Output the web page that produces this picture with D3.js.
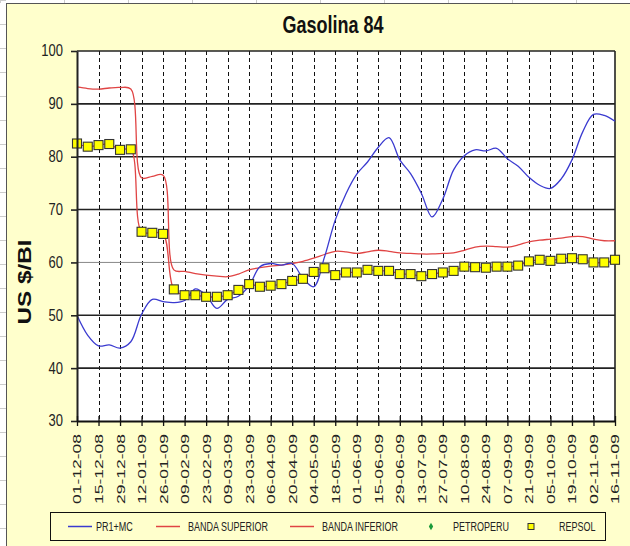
<!DOCTYPE html>
<html><head><meta charset="utf-8">
<script src="https://cdn.jsdelivr.net/npm/d3@7"></script>
<style>
html,body{margin:0;padding:0;background:#fff;}
svg{display:block;font-family:"Liberation Sans",Arial,sans-serif;}
</style></head><body>
<svg id="c" width="630" height="546"></svg>
<script>
const title = "Gasolina 84";
const yTitle = "US $/BI";
const tickLabels = ["01-12-08","15-12-08","29-12-08","12-01-09","26-01-09","09-02-09","23-02-09","09-03-09","23-03-09","06-04-09","20-04-09","04-05-09","18-05-09","01-06-09","15-06-09","29-06-09","13-07-09","27-07-09","10-08-09","24-08-09","07-09-09","21-09-09","05-10-09","19-10-09","02-11-09","16-11-09"];
const yTicks = [30,40,50,60,70,80,90,100];
const pr1mc = [50.0,46.2,44.2,44.4,43.8,45.0,50.2,53.0,52.6,52.4,52.8,55.0,53.8,51.3,53.0,53.6,55.6,59.2,59.8,59.5,59.8,57.0,55.4,61.0,68.0,73.0,76.7,79.0,81.8,83.6,79.4,76.8,73.1,68.6,72.0,77.5,80.2,81.3,81.1,81.6,79.6,78.2,76.1,74.6,74.0,75.8,79.4,84.7,88.0,87.8,86.7];
const bandaSuperior = [93.2,92.9,92.8,93.0,93.1,92.8,76.0,76.3,76.5,58.6,58.3,57.9,57.6,57.4,57.3,57.8,58.6,59.0,59.3,59.5,59.8,60.2,60.8,61.5,62.1,62.0,61.7,62.0,62.3,62.1,61.8,61.7,61.6,61.6,61.7,61.8,62.3,62.9,63.1,63.0,62.9,63.3,63.9,64.2,64.4,64.6,64.9,64.9,64.4,64.1,64.1];
const bandaInferior = [82.5,81.9,82.2,82.4,81.3,81.4,65.8,65.6,65.4,54.9,53.8,53.8,53.5,53.5,53.8,54.8,55.9,55.4,55.6,55.9,56.5,56.9,58.2,58.9,57.6,58.1,58.1,58.6,58.4,58.4,57.8,57.8,57.4,57.8,58.1,58.4,59.2,59.1,59.0,59.2,59.2,59.4,60.2,60.5,60.3,60.7,60.8,60.6,60.0,60.0,60.5];
const petroperu = [];
const repsol = [82.5,81.9,82.2,82.4,81.3,81.4,65.8,65.6,65.4,54.9,53.8,53.8,53.5,53.5,53.8,54.8,55.9,55.4,55.6,55.9,56.5,56.9,58.2,58.9,57.6,58.1,58.1,58.6,58.4,58.4,57.8,57.8,57.4,57.8,58.1,58.4,59.2,59.1,59.0,59.2,59.2,59.4,60.2,60.5,60.3,60.7,60.8,60.6,60.0,60.0,60.5];
const legendNames = ["PR1+MC","BANDA SUPERIOR","BANDA INFERIOR","PETROPERU","REPSOL"];

const BLUE = "#3a3ad0", RED = "#e04444", BG = "#ffffcc";
const svg = d3.select("#c");
const M = {l:77, r:615, t:51, b:421};
const parse = d3.timeParse("%d-%m-%y");
const tickDates = tickLabels.map(parse);
const weekDates = pr1mc.map((_,i)=>d3.timeDay.offset(tickDates[0], 7*i));
const x = d3.scaleTime().domain([tickDates[0], tickDates[tickDates.length-1]]).range([M.l, M.r]);
const y = d3.scaleLinear().domain([30,100]).range([M.b, M.t]);

// spreadsheet strip
svg.append("rect").attr("width",630).attr("height",546).attr("fill","#fff");
svg.append("g").selectAll("line").data(d3.range(0,546,24)).join("line")
  .attr("x1",0).attr("x2",6).attr("y1",d=>d+0.5).attr("y2",d=>d+0.5).attr("stroke","#ccc");
svg.append("g").selectAll("line").data(d3.range(0,630,64)).join("line")
  .attr("x1",d=>d+0.5).attr("x2",d=>d+0.5).attr("y1",0).attr("y2",3).attr("stroke","#ccc");
// chart area
svg.append("rect").attr("x",6.5).attr("y",3.5).attr("width",630).attr("height",550)
  .attr("fill",BG).attr("stroke","#555");
// plot area
svg.append("rect").attr("x",M.l).attr("y",M.t).attr("width",M.r-M.l).attr("height",M.b-M.t).attr("fill","#fff");

// vertical dashed grid
svg.append("g").selectAll("line").data(tickDates.slice(1,-1)).join("line")
  .attr("x1",d=>Math.round(x(d))+0.5).attr("x2",d=>Math.round(x(d))+0.5)
  .attr("y1",M.t).attr("y2",M.b).attr("stroke","#111").attr("stroke-width",1).attr("stroke-dasharray","4,3");
// horizontal grid
svg.append("g").selectAll("line").data(yTicks.slice(1)).join("line")
  .attr("x1",M.l).attr("x2",M.r).attr("y1",d=>y(d)).attr("y2",d=>y(d))
  .attr("stroke",d=>d===60?"#888":"#222").attr("stroke-width",d=>d===60?1:1.6);
// right border
svg.append("line").attr("x1",M.r).attr("x2",M.r).attr("y1",M.t).attr("y2",M.b).attr("stroke","#222").attr("stroke-width",1.6);

const line = d3.line().x((d,i)=>x(weekDates[i])).y(d=>y(d)).curve(d3.curveCatmullRom.alpha(0.5));
svg.append("path").datum(bandaInferior).attr("d",line).attr("fill","none").attr("stroke",RED).attr("stroke-width",1.3);
svg.append("path").datum(bandaSuperior).attr("d",line).attr("fill","none").attr("stroke",RED).attr("stroke-width",1.3);
svg.append("path").datum(pr1mc).attr("d",line).attr("fill","none").attr("stroke",BLUE).attr("stroke-width",1.3);
svg.append("g").selectAll("path").data(petroperu).join("path")
  .attr("transform",(d,i)=>`translate(${x(weekDates[i])},${y(d)})`).attr("d",d3.symbol(d3.symbolDiamond,30)).attr("fill","#1a9a3a");
svg.append("g").selectAll("rect").data(repsol).join("rect")
  .attr("x",(d,i)=>x(weekDates[i])-4.5).attr("y",d=>y(d)-4.5).attr("width",9).attr("height",9)
  .attr("fill","#ffff00").attr("stroke","#333").attr("stroke-width",1.1);

// y axis
const ya = svg.append("g").attr("transform",`translate(${M.l},0)`)
  .call(d3.axisLeft(y).tickValues(yTicks).tickSize(6).tickPadding(8).tickSizeOuter(0));
ya.select(".domain").attr("stroke","#222").attr("stroke-width",2);
ya.selectAll(".tick line").attr("stroke","#222").attr("stroke-width",1.6);
ya.selectAll(".tick text").attr("font-family","Liberation Sans, Arial, sans-serif").attr("font-size",13)
  .attr("fill","#222").attr("transform","scale(1,1.25)").attr("dy","0.3em");
// x axis
const xa = svg.append("g").attr("transform",`translate(0,${M.b})`)
  .call(d3.axisBottom(x).tickValues(tickDates).tickFormat((d,i)=>tickLabels[i]).tickSizeOuter(0));
xa.select(".domain").attr("stroke","#111").attr("stroke-width",2.2);
xa.selectAll(".tick line").attr("y1",-5).attr("y2",5).attr("stroke","#111").attr("stroke-width",1.3);
xa.selectAll(".tick text").attr("font-family","Liberation Sans, Arial, sans-serif").attr("font-size",11)
  .attr("fill","#222").attr("transform","rotate(-90)").attr("text-anchor","end")
  .attr("x",-13).attr("y",0).attr("dy","0.36em")
  .attr("textLength",70).attr("lengthAdjust","spacingAndGlyphs");

// titles
svg.append("text").attr("transform","translate(333,33) scale(1,1.3)").attr("text-anchor","middle")
  .attr("font-weight","bold").attr("font-size",18).attr("fill","#111").text(title);
svg.append("text").attr("transform","translate(31,282) rotate(-90)").attr("text-anchor","middle")
  .attr("font-weight","bold").attr("font-size",18).attr("fill","#111")
  .attr("textLength",85).attr("lengthAdjust","spacingAndGlyphs").text(yTitle);

// legend
const L = {x:50, y:512, w:555, h:28};
svg.append("rect").attr("x",L.x+0.5).attr("y",L.y+0.5).attr("width",L.w).attr("height",L.h)
  .attr("fill",BG).attr("stroke","#111");
const cy = L.y + L.h/2 + 0.5;
const lg = svg.append("g");
const items = [
  {type:"line", color:BLUE, x1:68, tx:96},
  {type:"line", color:RED, x1:156, tx:188},
  {type:"line", color:RED, x1:290, tx:322},
  {type:"diamond", color:"#1a9a3a", x1:431, tx:453},
  {type:"square", color:"#ffff00", x1:531, tx:559}
];
items.forEach((it,i)=>{
  if(it.type==="line") lg.append("line").attr("x1",it.x1).attr("x2",it.x1+24).attr("y1",cy).attr("y2",cy).attr("stroke",it.color).attr("stroke-width",1.5);
  else if(it.type==="diamond") lg.append("path").attr("transform",`translate(${it.x1},${cy})`).attr("d",d3.symbol(d3.symbolDiamond,16)).attr("fill",it.color);
  else lg.append("rect").attr("x",it.x1-3).attr("y",cy-3).attr("width",6).attr("height",6).attr("fill",it.color).attr("stroke","#333");
  lg.append("text").attr("transform",`translate(${it.tx},${cy+4}) scale(1,1.35)`)
    .attr("font-size",9).attr("fill","#222").text(legendNames[i]);
});
</script>
</body></html>
